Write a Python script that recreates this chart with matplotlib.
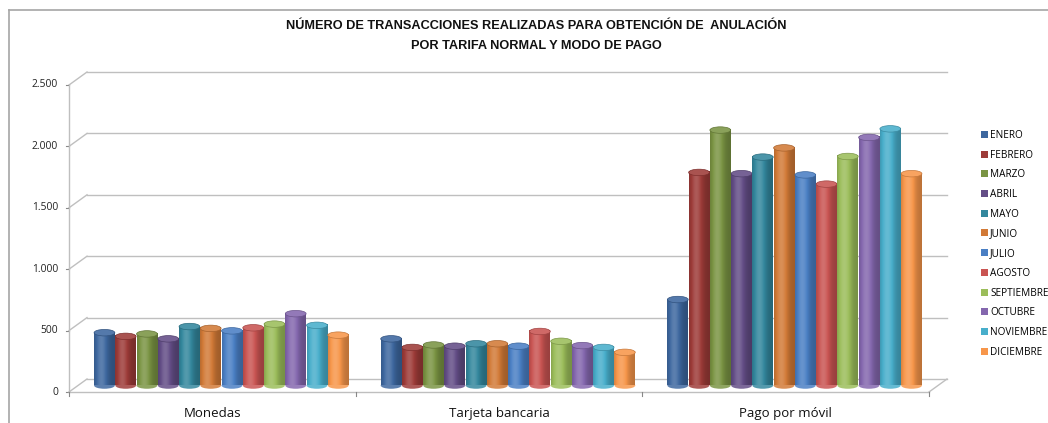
import numpy as np
import matplotlib.pyplot as plt
from matplotlib.patches import Ellipse, Patch
from matplotlib.lines import Line2D
from matplotlib.colors import to_rgb

meses = ['ENERO', 'FEBRERO', 'MARZO', 'ABRIL', 'MAYO', 'JUNIO', 'JULIO',
         'AGOSTO', 'SEPTIEMBRE', 'OCTUBRE', 'NOVIEMBRE', 'DICIEMBRE']
categorias = ['Monedas', 'Tarjeta bancaria', 'Pago por móvil']

monedas = [430, 400, 420, 380, 480, 465, 445, 470, 500, 585, 490, 410]
tarjeta = [380, 310, 330, 320, 340, 340, 320, 440, 360, 325, 310, 270]
movil = [700, 1735, 2080, 1725, 1860, 1935, 1715, 1640, 1865, 2020, 2090, 1725]

yticks = [0, 500, 1000, 1500, 2000, 2500]
yticklabels = ['0', '500', '1.000', '1.500', '2.000', '2.500']

colores = ['#3D679F', '#9D3B38', '#7A9443', '#634D86', '#33879D', '#D27A37',
           '#4A7FC4', '#C95452', '#9BBD5A', '#8467AE', '#48AECB', '#F7964A']

W, H = 1048, 423
fig = plt.figure(figsize=(W / 100, H / 100), dpi=100)
ax = fig.add_axes([69 / W, (H - 392) / H, 860 / W, 307 / H])
ax.axis('off')

px_x = 860 / 3        # pixels per category
px_y = 307 / 2500     # pixels per unit
dx = 18 / px_x        # depth offset of the back wall
dy = 13 / px_y
gris = '#BFBFBF'

# chart area border
fig.add_artist(Line2D([9 / W, 9 / W], [0, 1 - 10 / H], color='#A6A6A6', lw=1.2))
fig.add_artist(Line2D([9 / W, 1], [1 - 10 / H, 1 - 10 / H], color='#A6A6A6', lw=1.2))

# back wall gridlines and left connectors
for v, lab in zip(yticks, yticklabels):
    ax.plot([dx, 3 + dx], [v + dy, v + dy], color=gris, lw=1, clip_on=False)
    ax.plot([0, dx], [v, v + dy], color=gris, lw=1, clip_on=False)
    ax.plot([-3 / px_x, 0], [v, v], color='#888888', lw=0.8, clip_on=False)
    ax.text(-11 / px_x, v, lab, ha='right', va='center',
            fontsize=7.4, family='Open Sans', color='#222222')

# front axis and floor
ax.plot([0, 0], [0, 2500], color=gris, lw=1, clip_on=False)
ax.plot([0, 3], [0, 0], color=gris, lw=1, clip_on=False)
ax.plot([3, 3 + dx], [0, dy], color=gris, lw=1, clip_on=False)
for i in range(4):
    ax.plot([i, i], [0, -4 / px_y], color='#888888', lw=0.8, clip_on=False)
for i, c in enumerate(categorias):
    ax.text(i + 0.5, -21 / px_y, c, ha='center', va='center', fontsize=9.5,
            family='Open Sans', color='#111111')

# cylinder shading across the bar width
t = np.linspace(0, 1, 40)
f = 0.76 + 0.40 * np.exp(-((t - 0.35) / 0.32) ** 2)


def sombreado(color):
    c = np.array(to_rgb(color))
    out = np.empty((1, len(t), 3))
    for k, fk in enumerate(f):
        if fk <= 1:
            out[0, k] = c * fk
        else:
            out[0, k] = c + (1 - c) * (fk - 1)
    return np.clip(out, 0, 1)


ancho_slot = 255 / px_x / 12
ancho = 20.8 / px_x
cap = 6.5 / px_y
base = dy / 2
series = [monedas, tarjeta, movil]
for ci, valores in enumerate(series):
    x_ini = ci + 0.5 + dx / 2 - 6 * ancho_slot
    for m in range(12):
        xc = x_ini + (m + 0.5) * ancho_slot
        top = base + valores[m]
        col = colores[m]
        grad = sombreado(col)
        ax.add_patch(Ellipse((xc, base), ancho, cap, facecolor=grad[0, 14],
                             edgecolor='none', zorder=3 + m * 0.01, clip_on=False))
        ax.imshow(grad, extent=[xc - ancho / 2, xc + ancho / 2, base, top],
                  aspect='auto', interpolation='bilinear', zorder=3 + m * 0.01)
        cc = np.array(to_rgb(col))
        ax.add_patch(Ellipse((xc, top), ancho, cap, facecolor=cc + (1 - cc) * 0.12,
                             edgecolor=cc * 0.8, lw=0.5, zorder=3.005 + m * 0.01,
                             clip_on=False))

ax.set_xlim(0, 3)
ax.set_ylim(0, 2500)

# legend
handles = [Patch(facecolor=c, edgecolor='none') for c in colores]
fig.legend(handles, meses, loc='upper left', bbox_to_anchor=(981 / W, 1 - 130 / H),
           frameon=False, handlelength=0.7, handleheight=0.7,
           handletextpad=0.2, labelspacing=0.87, borderpad=0, borderaxespad=0,
           prop={'family': 'Open Sans', 'size': 7.2})

fig.text(536 / W, 1 - 26 / H, 'NÚMERO DE TRANSACCIONES REALIZADAS PARA OBTENCIÓN DE  ANULACIÓN',
         ha='center', va='center', fontsize=9.2, fontweight='bold',
         family='Liberation Sans', color='#111111')
fig.text(536 / W, 1 - 46 / H, 'POR TARIFA NORMAL Y MODO DE PAGO',
         ha='center', va='center', fontsize=9.2, fontweight='bold',
         family='Liberation Sans', color='#111111')

fig.savefig('out.png', dpi=100, facecolor='white')
